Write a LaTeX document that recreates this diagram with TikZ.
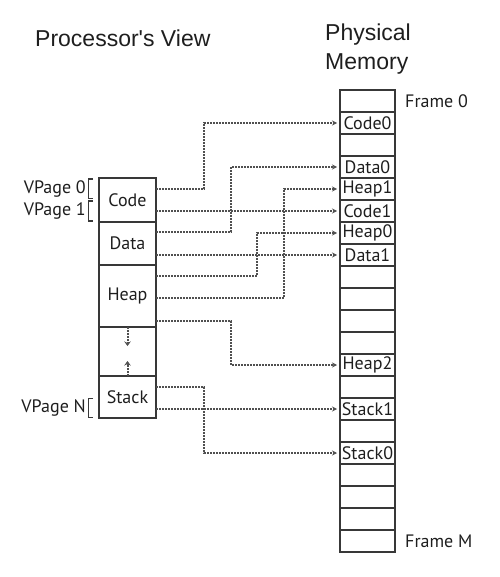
\documentclass[tikz,border=0pt]{standalone}
\usepackage{fontspec}
\setmainfont{PT Sans}
\newfontfamily\titlefont{Liberation Sans}
\usetikzlibrary{arrows.meta,calc}
\definecolor{linec}{HTML}{383838}
\definecolor{dotc}{HTML}{505050}
\definecolor{txt}{HTML}{1E1E1E}
\begin{document}
\begin{tikzpicture}[x=1pt,y=-1pt,
  lab/.style={font=\fontsize{18}{20}\selectfont, text=txt, inner sep=0pt},
  box/.style={draw=linec, line width=1.7pt, outer sep=0pt, minimum width=57pt, inner sep=0pt, lab},
  cell/.style={draw=linec, line width=1.4pt, outer sep=0pt, minimum width=55pt, minimum height=22pt, inner sep=0pt, lab},
  conn/.style={line width=2pt, dash pattern=on 2pt off 1pt, draw=dotc, -{Stealth[length=5pt,width=5pt]}, shorten >=3pt},
  growarrow/.style={line width=2pt, dash pattern=on 2pt off 1pt, draw=dotc, -{Stealth[length=4.5pt,width=6.5pt,inset=1.5pt]}},
  brk/.style={draw=linec, line width=1.1pt},
  title/.style={font=\titlefont\fontsize{23}{29}\selectfont, text=txt, inner sep=0pt, anchor=west, align=left}]
\useasboundingbox (0,0) rectangle (499,577);
% titles
\node[title] (tproc) at (35,38) {Processor's View};
\node[title, anchor=north west] (tphys) at (325,24) {Physical\\Memory};
% processor's view boxes
\node[box, minimum height=44pt] (code) at (127.5,200) {Code};
\node[box, minimum height=43pt] (data) at (127.5,243.5) {Data};
\node[box, minimum height=62pt] (heap) at (127.5,296) {Heap};
\node[box, minimum height=49pt] (gap) at (127.5,351.5) {};
\node[box, minimum height=42pt] (stack) at (127.5,397) {Stack};
% growth arrows
\coordinate (gdown) at ($(gap.north)+(0,19)$);
\coordinate (gup) at ($(gap.south)+(0,-15)$);
\draw[growarrow] (gap.north) -- (gdown);
\draw[growarrow] (gap.south) -- (gup);
% page labels
\node[lab, anchor=east] (vp0) at (86,189) {VPage 0};
\node[lab, anchor=east] (vp1) at (86,211) {VPage 1};
\node[lab, anchor=east] (vpn) at (86,408) {VPage N};
\draw[brk] (93,179) -- (88.5,179) -- (88.5,198.5) -- (93,198.5);
\draw[brk] (93,201) -- (88.5,201) -- (88.5,221) -- (93,221);
\draw[brk] (93,398.5) -- (88.5,398.5) -- (88.5,417.5) -- (93,417.5);
% physical memory
\foreach \i/\t in {0/,1/Code0,2/,3/Data0,4/Heap1,5/Code1,6/Heap0,7/Data1,8/,9/,10/,11/,12/Heap2,13/,14/Stack1,15/,16/Stack0,17/,18/,19/,20/}
  \node[cell] (m\i) at (367.5,{101+22*\i}) {\t};
\node[lab, anchor=west] (f0) at (405,101) {Frame 0};
\node[lab, anchor=west] (fm) at (405,541) {Frame M};
% connector start points
\coordinate (sc0) at ($(code.north east)+(0,11)$);
\coordinate (sc1) at ($(code.north east)+(0,33)$);
\coordinate (sd0) at ($(data.north east)+(0,10)$);
\coordinate (sd1) at ($(data.north east)+(0,33)$);
\coordinate (sh0) at ($(heap.north east)+(0,11)$);
\coordinate (sh1) at ($(heap.north east)+(0,33)$);
\coordinate (sh2) at ($(heap.north east)+(0,56)$);
\coordinate (ss0) at ($(stack.north east)+(0,11)$);
\coordinate (ss1) at ($(stack.north east)+(0,33)$);
% vertical routing columns
\coordinate (v1) at (204,0);
\coordinate (v2) at (231,0);
\coordinate (v3) at (257,0);
\coordinate (v4) at (284,0);
% connectors
\draw[conn] (sc0) -- (sc0 -| v1) |- (m1.west);
\draw[conn] (sc1) -- (sc1 -| m5.west);
\draw[conn] (sd0) -- (sd0 -| v2) |- (m3.west);
\draw[conn] (sd1) -- (sd1 -| m7.west);
\draw[conn] (sh0) -- (sh0 -| v3) |- (m6.west);
\draw[conn] (sh1) -- (sh1 -| v4) |- (m4.west);
\draw[conn] (sh2) -- (sh2 -| v2) |- (m12.west);
\draw[conn] (ss0) -- (ss0 -| v1) |- (m16.west);
\draw[conn] (ss1) -- (ss1 -| m14.west);
\end{tikzpicture}
\end{document}
